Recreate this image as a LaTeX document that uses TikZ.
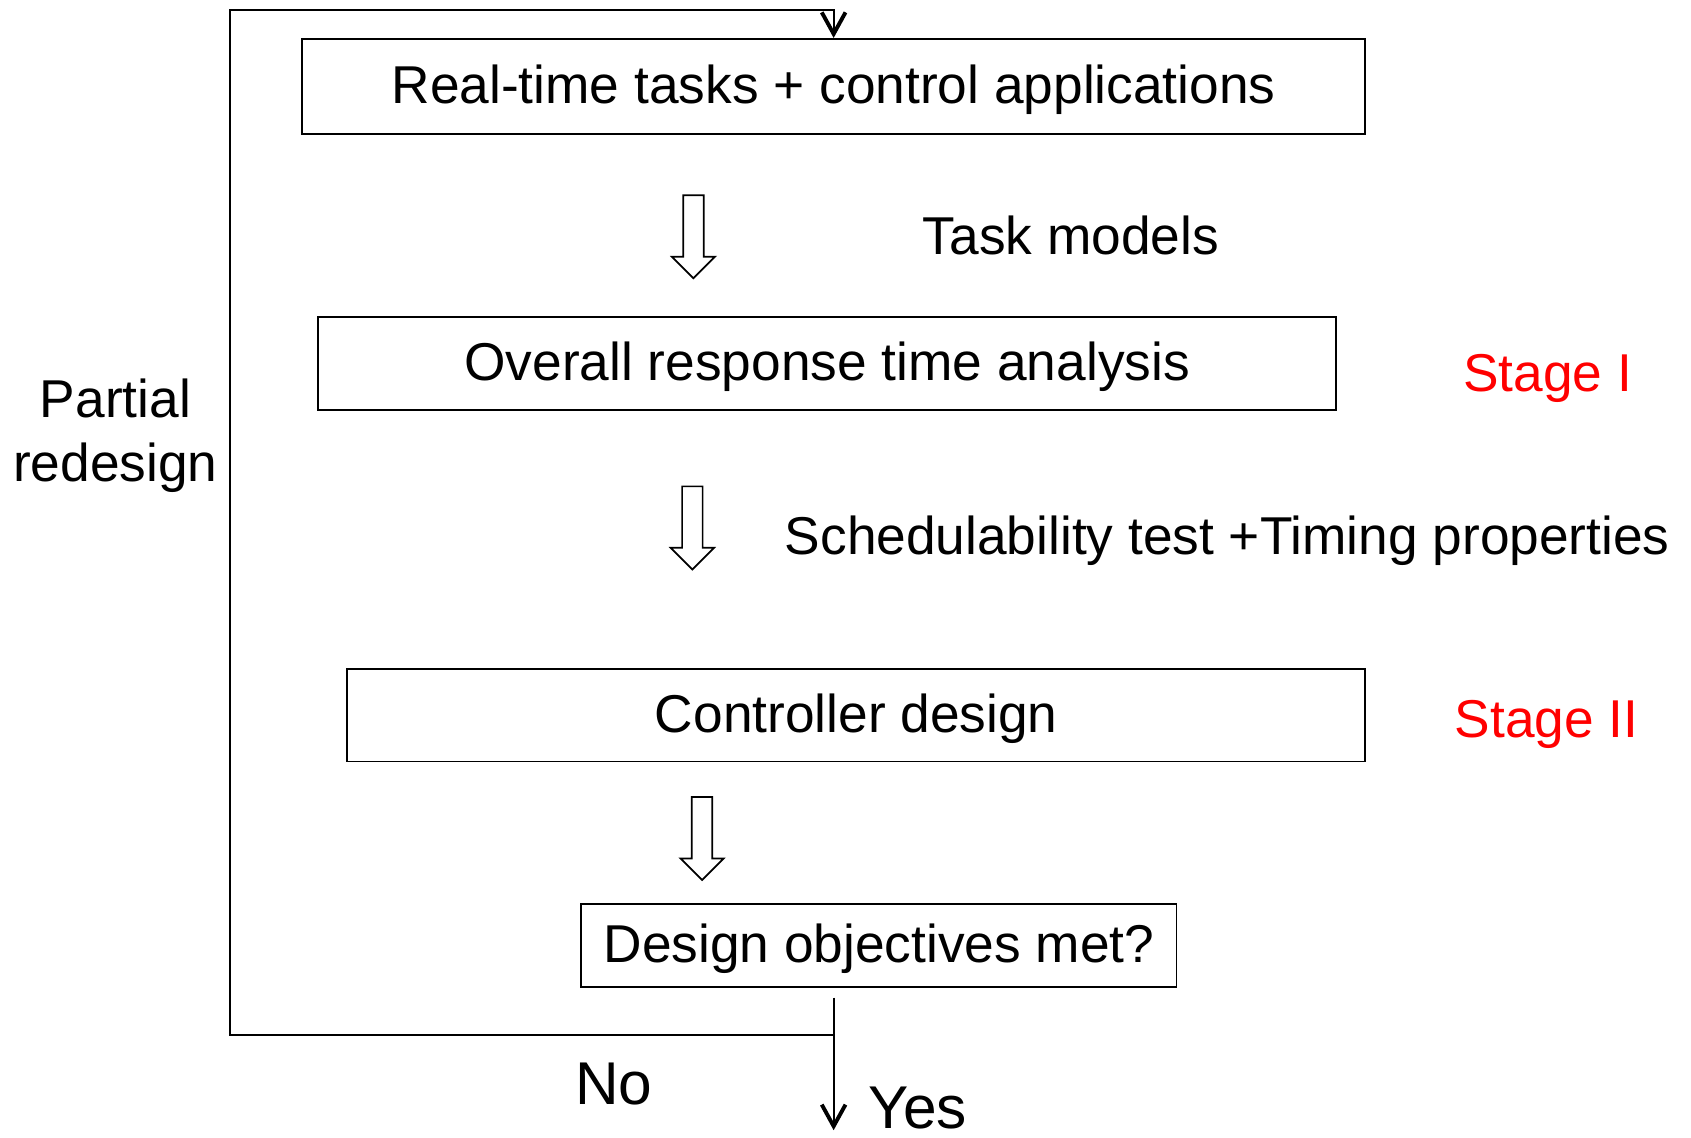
\documentclass[tikz,border=0pt]{standalone}
\usepackage{fontspec}
\setmainfont{Liberation Sans}
\usetikzlibrary{arrows.meta}
\definecolor{stagered}{RGB}{255,0,0}
\tikzset{
  box/.style={draw, line width=0.8pt, inner sep=0pt, text height=18pt, text depth=2pt, font=\fontsize{24.7}{29.6}\selectfont},
  lbl/.style={inner sep=0pt, text height=18pt, text depth=0pt, font=\fontsize{24.7}{29.6}\selectfont},
  biglbl/.style={inner sep=0pt, font=\fontsize{28}{33}\selectfont},
  stage/.style={lbl, text=stagered},
  arr/.style={line width=0.8pt, -{Straight Barb[length=10pt,width=11pt,line width=1.8pt]}},
  hollow/.pic={\draw[line width=0.8pt, fill=white, line join=miter]
     (-9.5,0) -- (9.5,0) -- (9.5,57) -- (20,57) -- (0,77) -- (-20,57) -- (-9.5,57) -- cycle;}
}
\begin{document}
\begin{tikzpicture}[x=0.5pt, y=-0.5pt]
\useasboundingbox (0,0) rectangle (1568,1055);
% boxes
\node[box, minimum width=493pt, minimum height=44pt] (b1) at (773,80) {Real-time tasks + control applications};
\node[box, minimum width=472pt, minimum height=43pt] (b2) at (767,337) {Overall response time analysis};
\node[box, minimum width=472pt, minimum height=43pt] (b3) at (794,663) {Controller design};
\node[box, minimum width=276pt, minimum height=38.5pt] (b4) at (815,876.5) {Design objectives met?};
% labels
\node[lbl] (tm) at (993,218) {Task models};
\node[lbl] (st) at (1138,496) {Schedulability test +Timing properties};
\node[stage] (s1) at (1435,345) {Stage I};
\node[stage] (s2) at (1434,666) {Stage II};
\node[inner sep=0pt, align=center, font=\fontsize{24.7}{29.6}\selectfont] (pr) at (107,404) {Partial\\redesign};
\node[biglbl] (no) at (569,1005) {No};
\node[biglbl, anchor=base] (yes) at (851,1046) {Yes};
% hollow arrows
\pic at (643,181) {hollow};
\pic at (642,451) {hollow};
\pic at (651,739) {hollow};
% connectors
\coordinate (ystart) at (773,925);
\coordinate (yend) at (773,1048);
\coordinate (split) at (773,960);
\coordinate (tl) at (213,9);
\draw[arr] (ystart) -- (yend);
\draw[arr] (split) -| (tl) -| (b1.north);
\end{tikzpicture}
\end{document}
